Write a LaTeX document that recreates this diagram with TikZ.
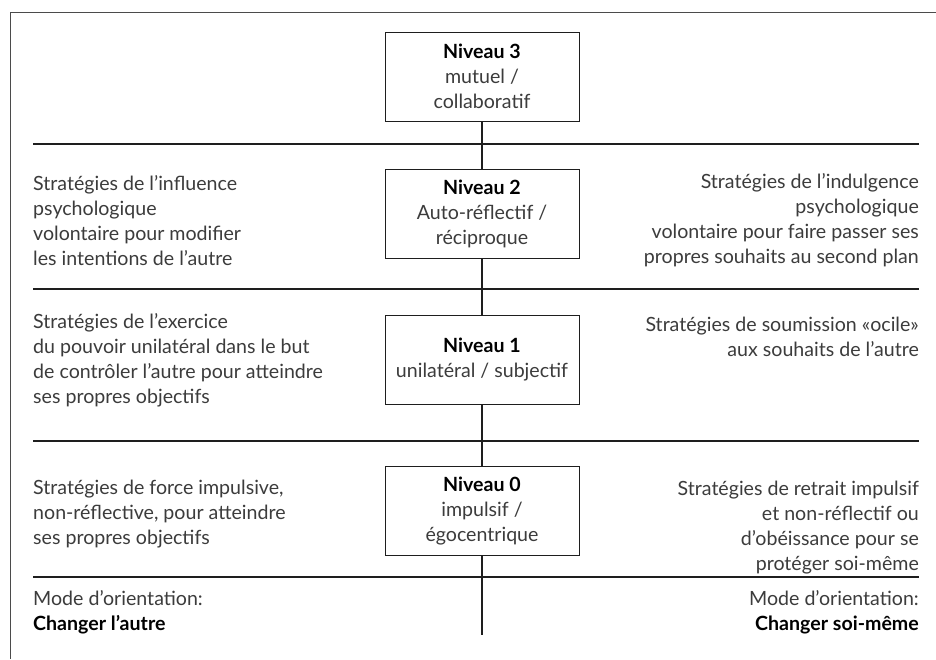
\documentclass[tikz,border=0pt]{standalone}
\usepackage{fontspec}
\setmainfont{Lato}
\definecolor{txt}{HTML}{3C3C3C}
\definecolor{ln}{HTML}{1E1E1E}
\begin{document}
\begin{tikzpicture}[x=1pt,y=-1pt,
  every node/.style={font=\fontsize{19.6}{25}\selectfont, text=txt, inner sep=0pt},
  lvl/.style={draw=ln, line width=1pt, fill=white, minimum width=194pt, minimum height=89pt, align=center},
  lefttext/.style={anchor=west, align=left},
  righttext/.style={anchor=east, align=right},
  sep/.style={draw=ln, line width=1.6pt},
  vline/.style={draw=ln, line width=1.4pt},
  frame/.style={draw=ln!80, line width=0.9pt}]
\useasboundingbox (0,0) rectangle (936,659);
\fill[white] (0,0) rectangle (936,659);
\draw[frame] (936,12) -- (10,12) -- (10,659);
% separators
\foreach \yy/\nm in {144/a,289/b,441/c,577/d}{
  \coordinate (sl\nm) at (33,\yy);
  \coordinate (sr\nm) at (919,\yy);
  \draw[sep] (sl\nm) -- (sr\nm);
}
% boxes
\node[lvl] (n3) at (482,76.5) {\textbf{\color{black}Niveau 3}\\mutuel /\\collaboratif};
\node[lvl] (n2) at (482,214) {\textbf{\color{black}Niveau 2}\\Auto-réflectif /\\réciproque};
\node[lvl] (n1) at (482,359.5) {\textbf{\color{black}Niveau 1}\\unilatéral / subjectif};
\node[lvl] (n0) at (482,511) {\textbf{\color{black}Niveau 0}\\impulsif /\\égocentrique};
\coordinate (vend) at (482,635);
\draw[vline] (n3.south) -- (n2.north);
\draw[vline] (n2.south) -- (n1.north);
\draw[vline] (n1.south) -- (n0.north);
\draw[vline] (n0.south) -- (vend);
% left texts
\node[lefttext] (l2) at (33,220.5) {Stratégies de l’influence\\psychologique\\volontaire pour modifier\\les intentions de l’autre};
\node[lefttext] (l1) at (33,360.5) {Stratégies de l’exercice\\du pouvoir unilatéral dans le but\\de contrôler l’autre pour atteindre\\ses propres objectifs};
\node[lefttext] (l0) at (33,514.5) {Stratégies de force impulsive,\\non-réflective, pour atteindre\\ses propres objectifs};
\node[lefttext] (lb) at (33,612.5) {Mode d’orientation:\\\textbf{\color{black}Changer l’autre}};
% right texts
\node[righttext] (r2) at (919,220.5) {Stratégies de l’indulgence\\psychologique\\volontaire pour faire passer ses\\propres souhaits au second plan};
\node[righttext] (r1) at (919,336.5) {Stratégies de soumission «ocile»\\aux souhaits de l’autre};
\node[righttext] (r0) at (919,527.5) {Stratégies de retrait impulsif\\et non-réflectif ou\\d’obéissance pour se\\protéger soi-même};
\node[righttext] (rb) at (919,612.5) {Mode d’orientation:\\\textbf{\color{black}Changer soi-même}};
\end{tikzpicture}
\end{document}
